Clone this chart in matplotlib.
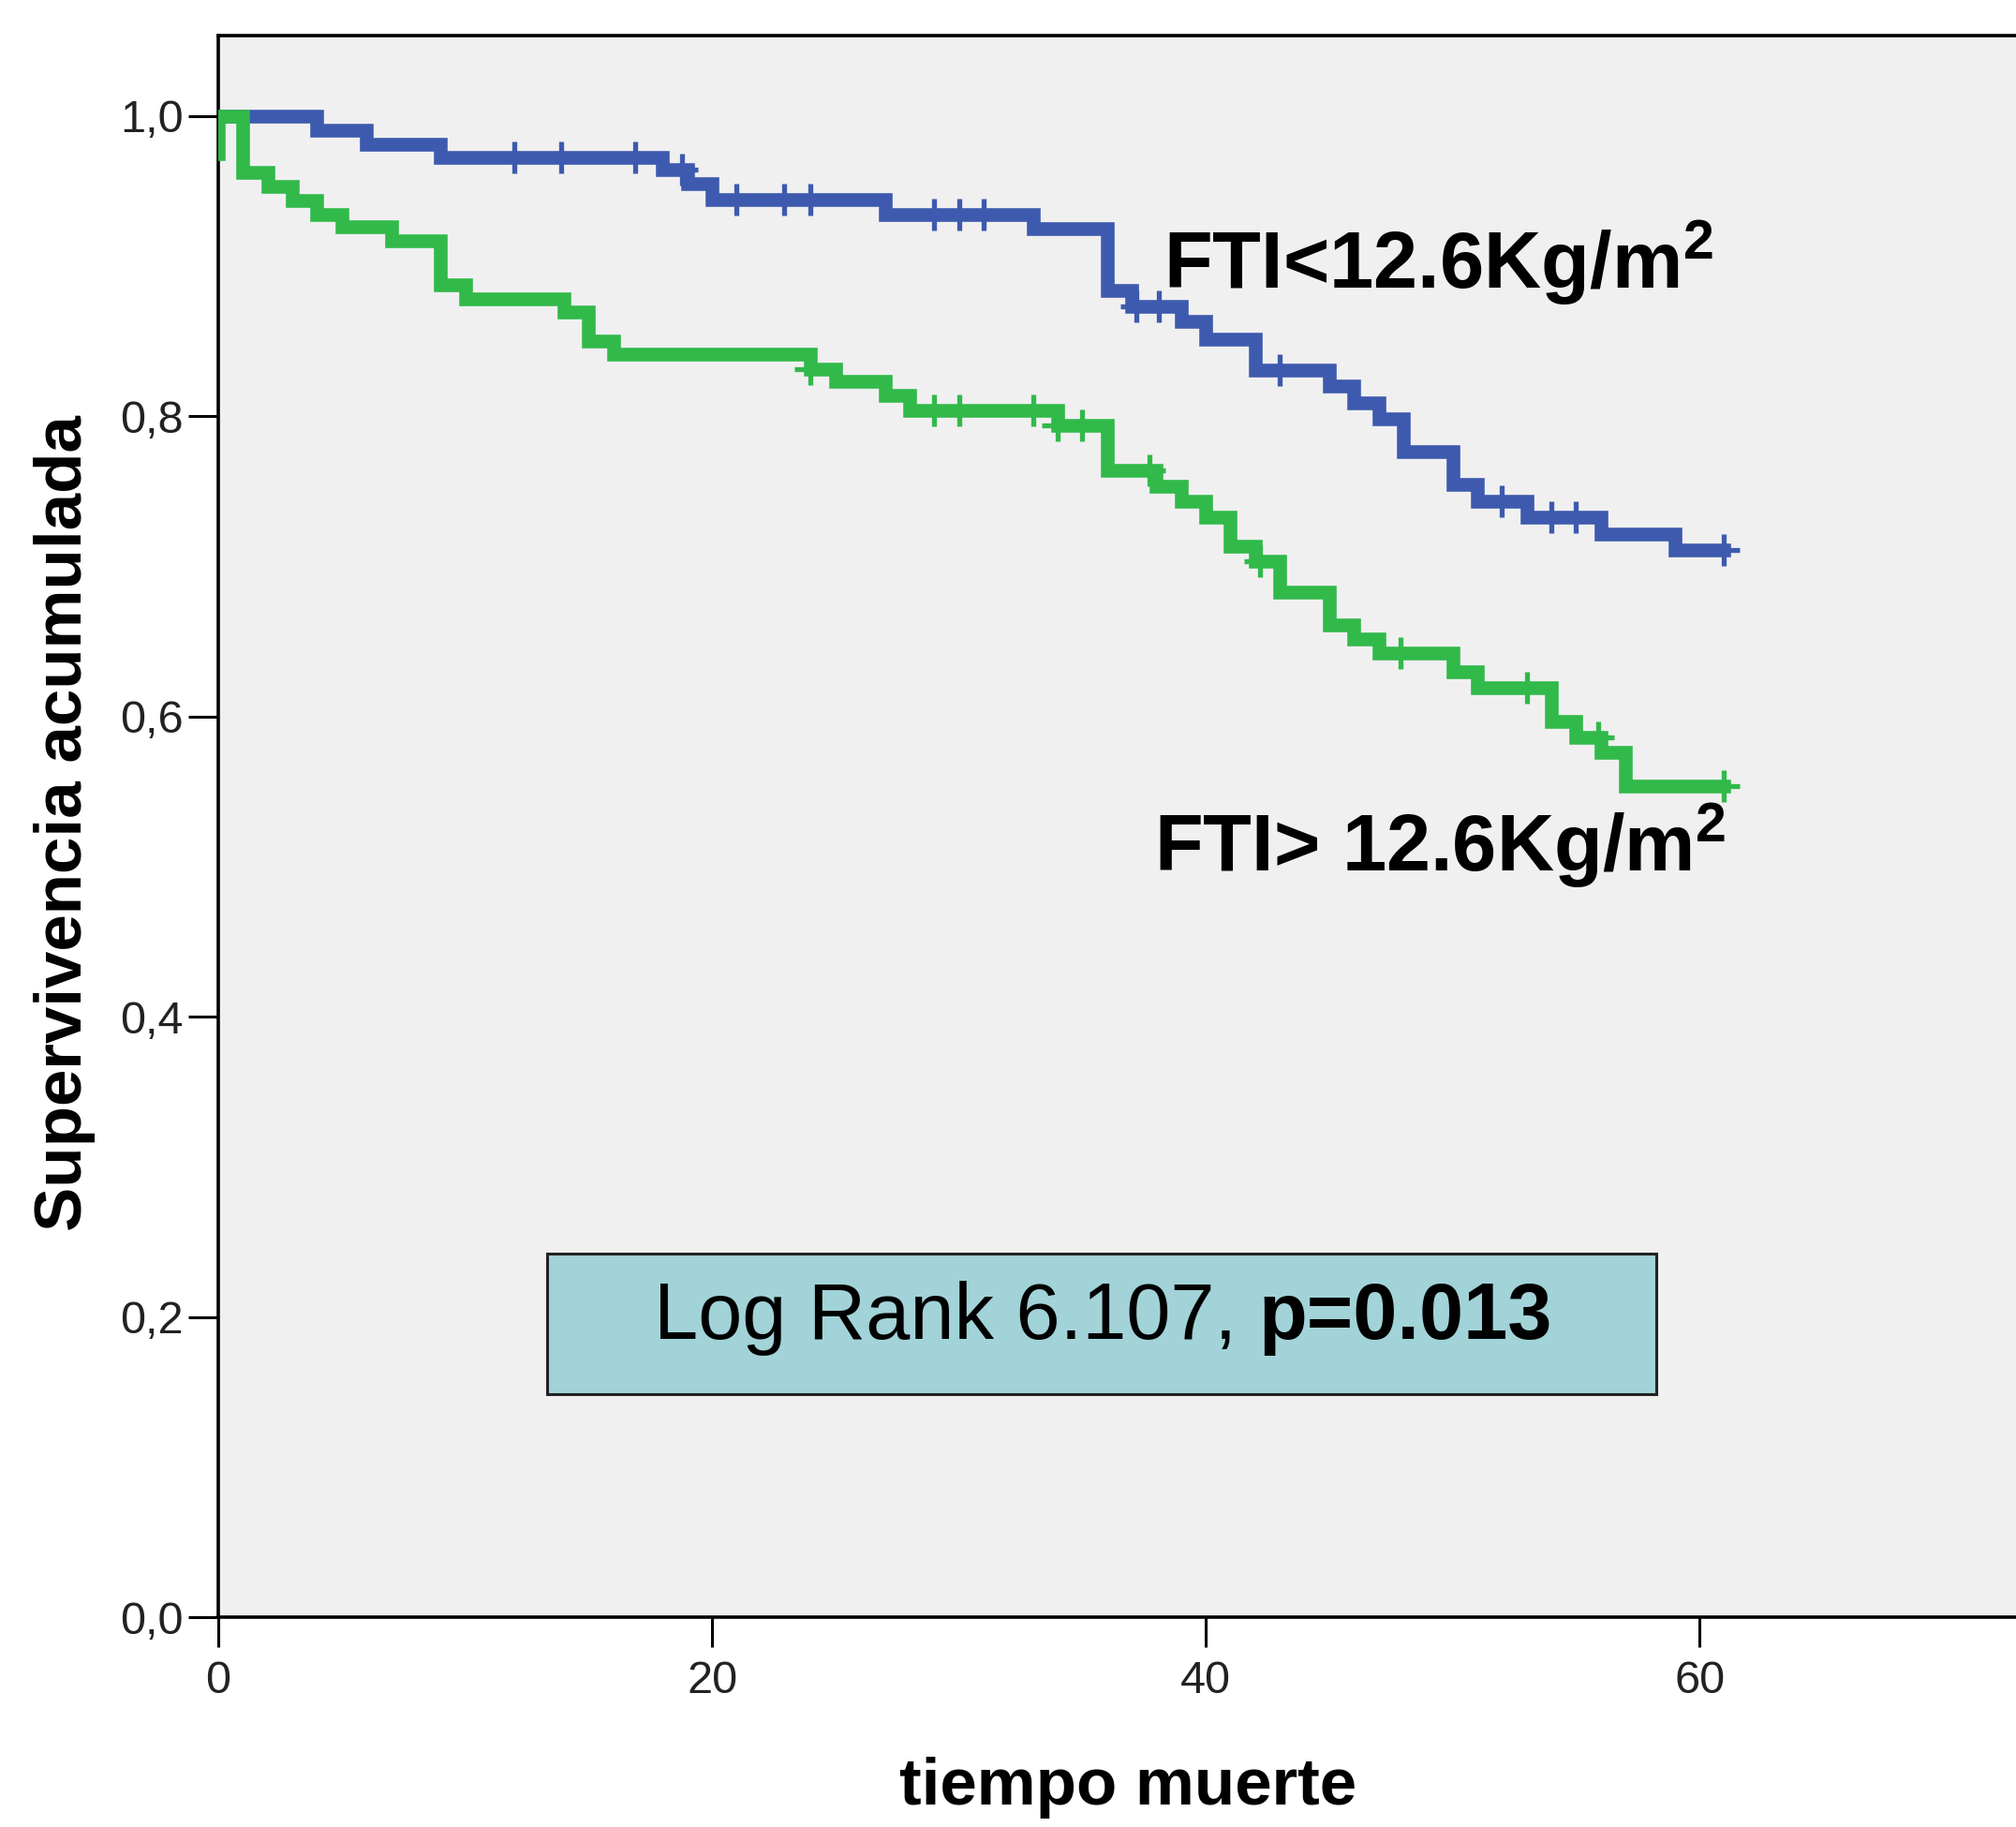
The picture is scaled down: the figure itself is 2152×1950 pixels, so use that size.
import numpy as np
import matplotlib
matplotlib.use("Agg")
import matplotlib.pyplot as plt
import matplotlib.patches as mpatches

# ── Data (Kaplan-Meier steps) ────────────────────────────────────────────────
low_times = [0, 4, 6, 9, 18, 19, 20, 27, 33, 36, 37, 39, 40, 42, 45, 46, 47,
             48, 50, 51, 53, 56, 59, 61]
low_surv = [1.0, 0.9906, 0.9813, 0.9725, 0.9640, 0.955, 0.944, 0.9345, 0.925,
            0.8836, 0.873, 0.8628, 0.8514, 0.8306, 0.820, 0.8087, 0.798,
            0.7764, 0.7546, 0.743, 0.7328, 0.7214, 0.711, 0.711]
low_censored = [12.0, 13.9, 16.9, 18.8, 21.0, 22.9, 24.0, 29.0, 30.0, 31.0,
                37.2, 38.1, 43.0, 52.0, 54.0, 55.0, 61.0]

high_times = [0, 0, 1, 2, 3, 4, 5, 7, 9, 10, 14, 15, 16, 24, 25, 27, 28, 34,
              36, 38, 39, 40, 41, 42, 43, 45, 46, 47, 50, 51, 54, 55, 56, 57, 61]
high_surv = [0.975, 1.0, 0.9625, 0.9532, 0.9438, 0.9345, 0.926, 0.9169,
             0.8877, 0.8783, 0.869, 0.850, 0.841, 0.8315, 0.8233, 0.814,
             0.8035, 0.794, 0.764, 0.7535, 0.743, 0.7328, 0.713, 0.7036,
             0.6828, 0.661, 0.6517, 0.642, 0.6298, 0.6193, 0.5966, 0.586,
             0.5757, 0.5538, 0.5538]
high_censored = [24.0, 29.0, 30.0, 33.0, 34.0, 35.0, 37.7, 42.2, 47.9, 53.0,
                 55.9, 61.0]

x_ticks = [0, 20, 40, 60]
y_ticks = [0.0, 0.2, 0.4, 0.6, 0.8, 1.0]
y_tick_labels = ["0,0", "0,2", "0,4", "0,6", "0,8", "1,0"]

label_low = "FTI<12.6Kg/m$^{2}$"
label_high = "FTI> 12.6Kg/m$^{2}$"
stat_text = "Log Rank 6.107,"
stat_p = "p=0.013"

# ── Style ────────────────────────────────────────────────────────────────────
BLUE = "#3d5aae"
GREEN = "#31b94a"
AX_BG = "#f0f0f0"
BOX_BG = "#a2d3d8"
TICK_COLOR = "#222222"

plt.rcParams.update({
    "font.family": ["Liberation Sans", "DejaVu Sans"],
    "mathtext.fontset": "custom",
    "mathtext.rm": "Liberation Sans:bold",
    "mathtext.it": "Liberation Sans:bold:italic",
    "mathtext.bf": "Liberation Sans:bold",
})


def censor_levels(times, surv, cens):
    t = np.asarray(times, dtype=float)
    s = np.asarray(surv, dtype=float)
    idx = np.searchsorted(t, cens, side="right") - 1
    return s[idx]


fig = plt.figure(figsize=(21.52, 19.5), dpi=100)
fig.patch.set_facecolor("white")
ax = fig.add_axes([0.1083, 0.11487, 0.9796, 0.86564])
ax.set_facecolor(AX_BG)

ax.set_xlim(0, 80)
ax.set_ylim(0, 1.0534)

# curves
ax.step(low_times, low_surv, where="post", color=BLUE, lw=10.5,
        solid_joinstyle="miter", zorder=3)
ax.plot(low_censored, censor_levels(low_times, low_surv, low_censored),
        ls="none", marker="+", ms=25, mew=3.8, color=BLUE, zorder=3)

ax.step(high_times, high_surv, where="post", color=GREEN, lw=10.5,
        solid_joinstyle="miter", zorder=4)
ax.plot(high_censored, censor_levels(high_times, high_surv, high_censored),
        ls="none", marker="+", ms=25, mew=3.8, color=GREEN, zorder=4)

# ticks / spines
ax.set_xticks(x_ticks)
ax.set_xticklabels([str(v) for v in x_ticks])
ax.set_yticks(y_ticks)
ax.set_yticklabels(y_tick_labels)
ax.tick_params(axis="both", direction="out", length=23, width=2.2,
               color="black", labelsize=35, labelcolor=TICK_COLOR)
ax.tick_params(axis="y", pad=4)
ax.tick_params(axis="x", pad=10)
for side in ("left", "bottom", "top"):
    ax.spines[side].set_linewidth(2.6)
    ax.spines[side].set_color("black")
ax.spines["right"].set_visible(False)

# axis titles
fig.text(0.0319, 0.5497, "Supervivencia acumulada", rotation=90,
         ha="center", va="center", fontsize=51, fontweight="bold")
fig.text(0.5596, 0.0215, "tiempo muerte", ha="center", va="center",
         fontsize=51, fontweight="bold")

# group labels
ax.text(38.3, 0.885, label_low, ha="left", va="baseline",
        fontsize=61, fontweight="bold", color="black", zorder=5)
ax.text(37.9, 0.497, label_high, ha="left", va="baseline",
        fontsize=61, fontweight="bold", color="black", zorder=5)

# log-rank box
box = mpatches.Rectangle((13.3, 0.1485), 44.95, 0.0936, facecolor=BOX_BG,
                         edgecolor="#222222", lw=2.2, zorder=5)
ax.add_patch(box)
t1 = ax.text(17.65, 0.1853, stat_text, ha="left", va="baseline",
             fontsize=61, color="black", zorder=6)
ax.annotate(stat_p, xy=(1, 0), xycoords=t1, xytext=(17, 0),
            textcoords="offset points", ha="left", va="bottom",
            fontsize=61, fontweight="bold", color="black", zorder=6)

fig.savefig("out.png", dpi=100, facecolor=fig.get_facecolor())
